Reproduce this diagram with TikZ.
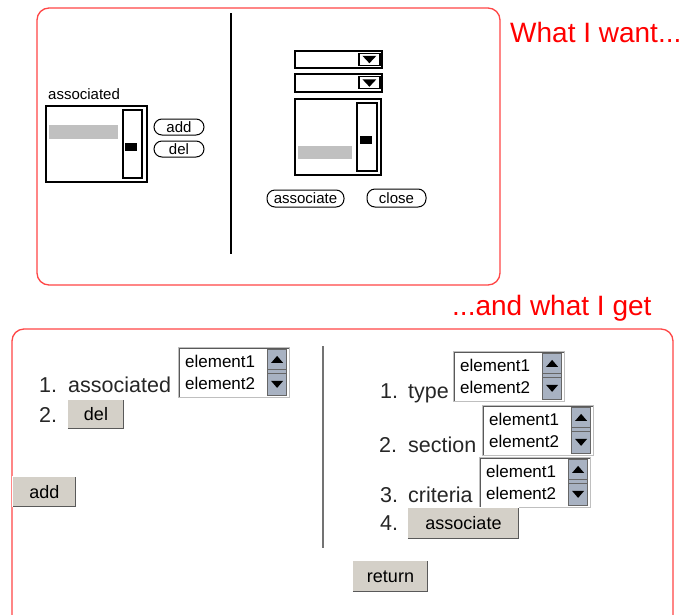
\documentclass[tikz,border=0pt]{standalone}
\usepackage{fontspec}
\setmainfont{Liberation Sans}
\usetikzlibrary{calc}
\definecolor{boxred}{RGB}{255,70,70}
\definecolor{txtred}{RGB}{255,0,0}
\definecolor{btngray}{RGB}{212,208,200}
\definecolor{scrl}{RGB}{168,178,194}
\definecolor{selgray}{RGB}{192,192,192}
\newcommand{\fs}[1]{\fontsize{#1}{#1}\selectfont}
\tikzset{
  redbox/.style={draw=boxred, line width=1.3pt, rounded corners=12pt},
  lbframe/.style={draw=black!25, fill=white, line width=1pt, inner sep=0pt},
  darkline/.style={draw=black!65, line width=1.2pt},
  lbtext/.style={inner sep=0pt, font=\fs{17}},
  sbox/.style={draw=black!60, fill=scrl, line width=0.8pt, inner sep=0pt, minimum width=19pt},
  btn/.style={fill=btngray, inner sep=0pt, font=\fs{18}},
  lbl/.style={inner sep=0pt, anchor=base west, font=\fs{21.5}, text=black!85},
  pill/.style={draw, line width=1pt, rounded corners=8pt, inner sep=0pt, font=\fs{15}},
  mock/.style={draw, line width=1.5pt, inner sep=0pt},
  title/.style={inner sep=0pt, anchor=base west, font=\fs{28}, text=txtred},
}
% list box: name, x, y (top-left corner)
\newcommand{\ListBox}[3]{%
  \node[lbframe, minimum width=111pt, minimum height=50pt, anchor=north west] (#1) at (#2,#3) {};
  \draw[darkline] ([xshift=1.5pt,yshift=1.5pt]#1.south west) -- ([xshift=1.5pt,yshift=-1.5pt]#1.north west) -- ([xshift=-1.5pt,yshift=-1.5pt]#1.north east);
  \node[sbox, minimum height=46pt, anchor=north east] (#1sb) at ([xshift=-3pt,yshift=-2pt]#1.north east) {};
  \node[sbox, minimum height=20pt, anchor=north] (#1up) at (#1sb.north) {};
  \node[sbox, minimum height=22pt, anchor=south] (#1dn) at (#1sb.south) {};
  \fill ($(#1up.center)+(-6,3.5)$) -- ($(#1up.center)+(6,3.5)$) -- ($(#1up.center)+(0,-3.5)$) -- cycle;
  \fill ($(#1dn.center)+(-6,-3.5)$) -- ($(#1dn.center)+(6,-3.5)$) -- ($(#1dn.center)+(0,3.5)$) -- cycle;
  \node[lbtext, anchor=west] (#1a) at ([xshift=7pt,yshift=-14pt]#1.north west) {element1};
  \node[lbtext, anchor=west] (#1b) at ([xshift=7pt,yshift=-36pt]#1.north west) {element2};
}
% button: name, cx, cy, w, h, text
\newcommand{\Btn}[6]{%
  \node[btn, minimum width=#4pt, minimum height=#5pt] (#1) at (#2,#3) {#6};
  \draw[white, line width=1.2pt] (#1.south west) -- (#1.north west) -- (#1.north east);
  \draw[black!65, line width=1.6pt] ([yshift=0.8pt]#1.south west) -- ([yshift=0.8pt,xshift=-0.8pt]#1.south east) -- ([xshift=-0.8pt]#1.north east);
}
% top mock dropdown: name, x1, y1, x2, y2
\newcommand{\Drop}[5]{%
  \node[mock, fill=white, minimum width={#4-#2}, minimum height={#5-#3}, anchor=north west] (#1) at (#2,#3) {};
  \node[mock, line width=1.2pt, minimum width=21pt, minimum height=12pt, anchor=east] (#1ar) at ([xshift=-2pt]#1.east) {};
  \fill ($(#1ar.center)+(-7,-3.5)$) -- ($(#1ar.center)+(7,-3.5)$) -- ($(#1ar.center)+(0,4)$) -- cycle;
}
\begin{document}
\begin{tikzpicture}[x=1pt, y=-1pt]
\useasboundingbox (0,0) rectangle (686,614);
\fill[white] (0,0) rectangle (686,614);

% ===== top: what I want =====
\draw[redbox] (37,8) rectangle (500,285);
\coordinate (vt1) at (231,13);
\coordinate (vt2) at (231,254);
\draw[line width=1.5pt] (vt1) -- (vt2);
\node[title] (want) at (510,42) {What I want...};

\node[inner sep=0pt, anchor=base west, font=\fs{15}] (tassoc) at (48,99) {associated};
\node[mock, fill=white, minimum width=101pt, minimum height=76pt, anchor=north west] (tlist) at (45,105) {};
\fill[selgray] (49,125) rectangle (118,139);
\node[mock, minimum width=19pt, minimum height=68pt, anchor=north west] (tscr) at (122,109) {};
\fill (125,143) rectangle (137,151);
\node[pill, minimum width=50pt, minimum height=16pt] (tadd) at (179,127) {add};
\node[pill, minimum width=50pt, minimum height=16pt] (tdel) at (179,149) {del};

\Drop{dd1}{294}{50}{381}{67}
\Drop{dd2}{294}{73}{381}{91}
\node[mock, fill=white, minimum width=86pt, minimum height=76pt, anchor=north west] (rlist) at (294,98) {};
\fill[selgray] (298,146) rectangle (352,159);
\node[mock, minimum width=20pt, minimum height=68pt, anchor=north west] (rscr) at (356,102) {};
\fill (360,136) rectangle (372,144);
\node[pill, minimum width=77pt, minimum height=17pt] (tassocbtn) at (305.5,198.5) {associate};
\node[pill, minimum width=59pt, minimum height=18pt] (tclose) at (396.5,198) {close};

% ===== bottom: what I get =====
\node[title] (get) at (452,315) {...and what I get};
\draw[redbox] (12,620) -- (12,329) -- (673,329) -- (673,620);
\coordinate (vb1) at (323,346);
\coordinate (vb2) at (323,548);
\draw[black!55, line width=1.3pt] (vb1) -- (vb2);

% left column
\node[lbl] (n1) at (39,392) {1.};
\node[lbl] (lassoc) at (68,392) {associated};
\ListBox{lbassoc}{178}{347}
\node[lbl] (n2) at (39,422) {2.};
\Btn{bdel}{96}{414.5}{56}{29}{del}
\Btn{badd}{44.5}{492}{63}{30}{add}

% right column
\node[lbl] (m1) at (380,398) {1.};
\node[lbl] (ltype) at (408,398) {type};
\ListBox{lbtype}{453}{351}
\node[lbl] (m2) at (379,452) {2.};
\node[lbl] (lsect) at (408,452) {section};
\ListBox{lbsect}{482}{405}
\node[lbl] (m3) at (380,502) {3.};
\node[lbl] (lcrit) at (408,502) {criteria};
\ListBox{lbcrit}{479}{457}
\node[lbl] (m4) at (380,530) {4.};
\Btn{bassoc}{463.5}{523.5}{111}{31}{associate}
\Btn{bret}{390.5}{576.5}{75}{31}{return}
\end{tikzpicture}
\end{document}
